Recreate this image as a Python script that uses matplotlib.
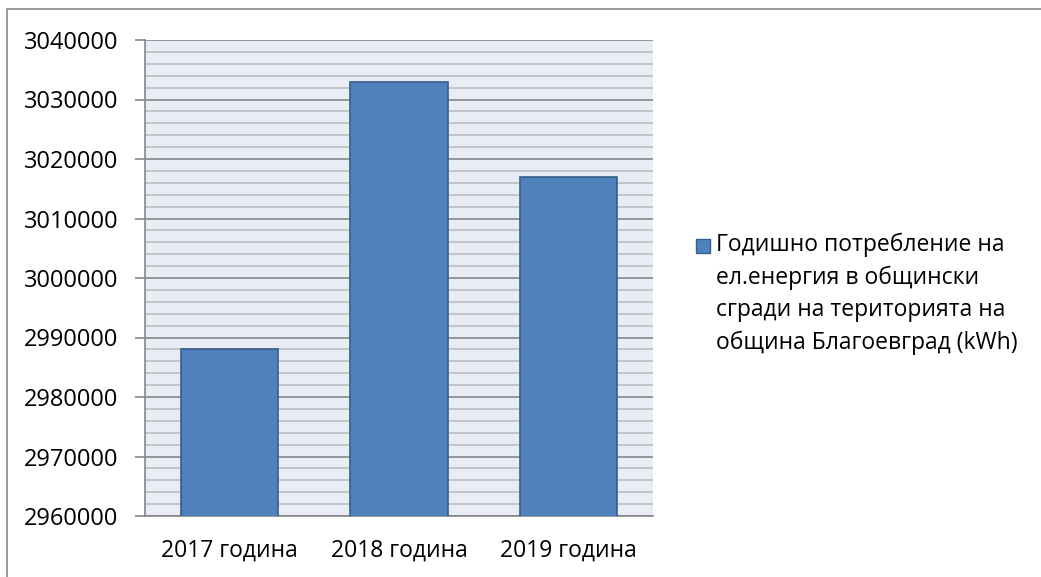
import numpy as np
import matplotlib.pyplot as plt
from matplotlib.patches import Rectangle
from matplotlib.lines import Line2D
from matplotlib.ticker import MultipleLocator, StrMethodFormatter

categories = ['2017 година', '2018 година', '2019 година']
values = [2988000, 3032900, 3016900]
series_label = ('Годишно потребление на\nел.енергия в общински\n'
                'сгради на територията на\nобщина Благоевград (kWh)')

plt.rcParams['font.family'] = ['Open Sans', 'DejaVu Sans']

W, H = 1041, 577
fig = plt.figure(figsize=(W/100, H/100), dpi=100)
ax = fig.add_axes([145/W, 1-516/H, (653-145)/W, (516-40)/H])

bar_c = '#4F81BD'
edge_c = '#385D8A'
x = np.arange(len(categories))
ax.bar(x, values, width=0.573, color=bar_c, edgecolor=edge_c, linewidth=1.2, zorder=3)

ax.set_xlim(-0.5, 2.5)
ax.set_ylim(2960000, 3040000)
ax.set_facecolor('#E8EDF5')
ax.yaxis.set_major_locator(MultipleLocator(10000))
ax.yaxis.set_minor_locator(MultipleLocator(2000))
ax.yaxis.set_major_formatter(StrMethodFormatter('{x:.0f}'))
ax.grid(which='major', axis='y', color='#868686', linewidth=1.2, zorder=1)
ax.grid(which='minor', axis='y', color='#BDBDBD', linewidth=1.2, zorder=1)

ax.set_xticks(x)
ax.set_xticklabels(categories)
ax.tick_params(axis='x', length=0, pad=16, labelsize=16.5)
ax.tick_params(axis='y', which='major', length=7, width=1.2, color='#868686',
               direction='out', pad=12, labelsize=17)
ax.tick_params(axis='y', which='minor', length=0)

for s in ['top', 'right']:
    ax.spines[s].set_visible(False)
for s in ['left', 'bottom']:
    ax.spines[s].set_color('#868686')
    ax.spines[s].set_linewidth(1.2)

# legend
fig.add_artist(Rectangle((696/W, 1-253/H), 14/W, 14/H, transform=fig.transFigure,
                         facecolor=bar_c, edgecolor=edge_c, linewidth=1))
fig.text(716/W, 1-233/H, series_label, ha='left', va='top', fontsize=16.5,
         linespacing=1.45, transform=fig.transFigure)

# outer border (left and top edges only visible)
fig.add_artist(Line2D([7/W, 7/W, 1], [0, 1-9/H, 1-9/H], transform=fig.transFigure,
                      color='#888888', linewidth=1.2))

fig.savefig('out.png', dpi=100)
